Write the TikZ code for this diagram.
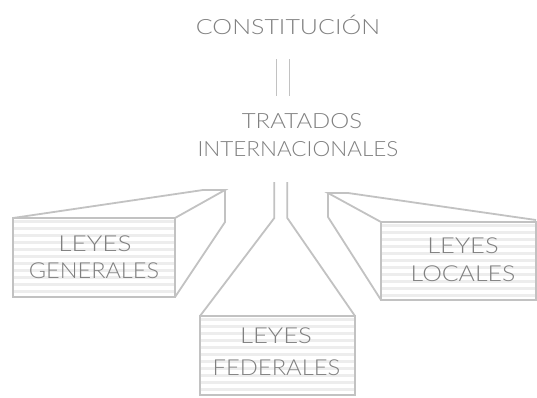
\documentclass[tikz,border=0pt]{standalone}
\usepackage{graphicx}
\usepackage{fontspec}
\setmainfont{Lato}[UprightFont={* Light}]
\definecolor{edge}{RGB}{194,194,194}
\definecolor{stripe}{RGB}{237,237,237}
\definecolor{txt}{RGB}{128,128,128}
\newcommand\widen[2]{\scalebox{#1}[1]{#2}}
\begin{document}
\begin{tikzpicture}[x=1pt,y=-1pt,
  edgeline/.style={draw=edge,line width=1.8pt,line join=miter},
  stripeline/.style={draw=stripe,line width=3pt},
  lbl/.style={text=txt,font=\fontsize{22}{26}\selectfont,inner sep=0pt,anchor=base},
  ttl/.style={text=txt,font=\fontsize{21}{25}\selectfont,inner sep=0pt,anchor=base}]
\useasboundingbox (0,0) rectangle (537,397);
\fill[white] (0,0) rectangle (537,397);

% stripes on front faces
\begin{scope}
  \clip (13,218) rectangle (175,297);
  \foreach \k in {0,...,12} \draw[stripeline] (13,221+7*\k) -- (175,221+7*\k);
\end{scope}
\begin{scope}
  \clip (381,222) rectangle (536,300);
  \foreach \k in {0,...,12} \draw[stripeline] (381,225+7*\k) -- (536,225+7*\k);
\end{scope}
\begin{scope}
  \clip (200,316) rectangle (355,395);
  \foreach \k in {0,...,12} \draw[stripeline] (200,319+7*\k) -- (355,319+7*\k);
\end{scope}

% texts
\node[ttl] (const) at (288,34.5) {\widen{1.19}{CONSTITUCIÓN}};
\node[ttl] (trat) at (302,128) {\widen{1.14}{TRATADOS}};
\node[ttl] (inter) at (298,156) {\widen{1.07}{INTERNACIONALES}};
\node[lbl] (genA) at (95,251.5) {\widen{1.19}{LEYES}};
\node[lbl] (genB) at (94,278) {\widen{1.07}{GENERALES}};
\node[lbl] (locA) at (463,253) {\widen{1.16}{LEYES}};
\node[lbl] (locB) at (463,281.5) {\widen{1.13}{LOCALES}};
\node[lbl] (fedA) at (276,343) {\widen{1.17}{LEYES}};
\node[lbl] (fedB) at (276.5,375) {\widen{1.08}{FEDERALES}};

% double bar between Constitucion and Tratados
\coordinate (b1t) at (276.5,59); \coordinate (b1b) at (276.5,96);
\coordinate (b2t) at (289.5,59); \coordinate (b2b) at (289.5,96);
\draw[edgeline] (b1t) -- (b1b);
\draw[edgeline] (b2t) -- (b2b);

% left box (leyes generales)
\draw[edgeline] (13,218) rectangle (175,297);
\draw[edgeline] (13,218) -- (203,190) -- (225,190) -- (175,218);
\draw[edgeline] (225,190) -- (225,222) -- (175,297);

% right box (leyes locales)
\draw[edgeline] (381,222) rectangle (536,300);
\draw[edgeline] (381,222) -- (328,193) -- (348,193) -- (536,220);
\draw[edgeline] (328,193) -- (328,217) -- (381,300);

% central box (leyes federales)
\draw[edgeline] (200,316) rectangle (355,395);
\draw[edgeline] (274.3,182) -- (274.3,218) -- (200,316);
\draw[edgeline] (287.3,182) -- (287.3,218) -- (355,316);
\end{tikzpicture}
\end{document}
